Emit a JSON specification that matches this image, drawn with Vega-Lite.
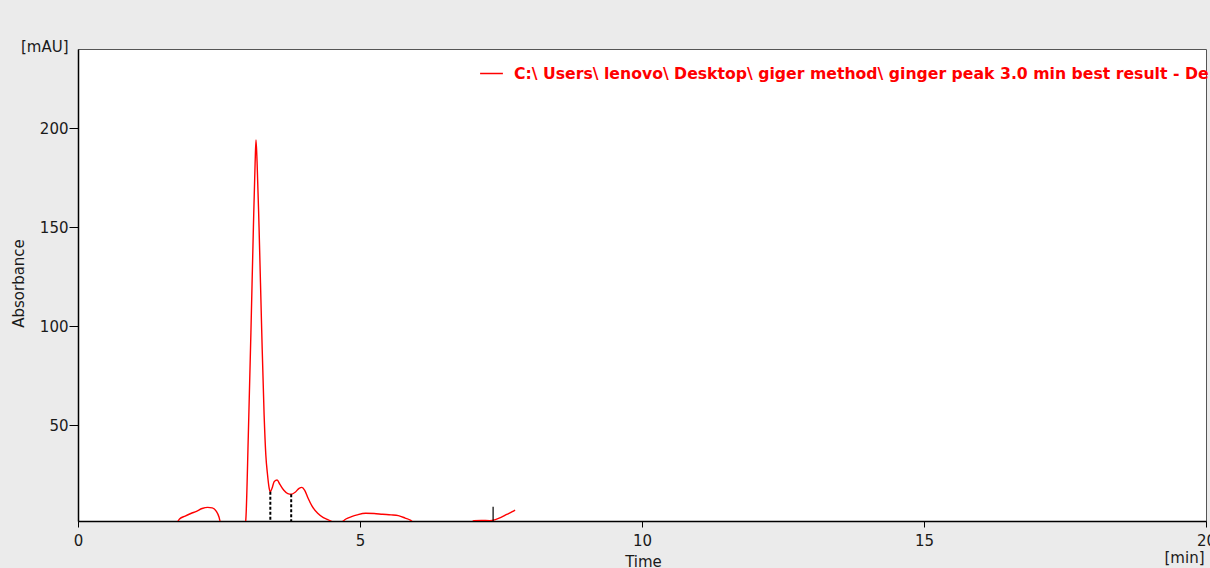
{
  "$schema": "https://vega.github.io/schema/vega-lite/v6.json",
  "width": 1128,
  "height": 472,
  "autosize": {"type": "none"},
  "padding": {"left": 78, "top": 49, "right": 4, "bottom": 47},
  "background": "#ebebeb",
  "config": {
    "view": {"fill": "white", "stroke": "#555555", "strokeWidth": 1},
    "font": "DejaVu Sans",
    "axis": {
      "grid": false,
      "labelFont": "DejaVu Sans",
      "labelFontSize": 15,
      "labelColor": "#1a1a1a",
      "labelFlush": false,
      "labelOverlap": false,
      "titleFont": "DejaVu Sans",
      "titleFontSize": 15,
      "titleFontWeight": "normal",
      "titleColor": "#1a1a1a",
      "domainColor": "#000000",
      "domainWidth": 1.5,
      "tickColor": "#000000",
      "tickWidth": 1
    }
  },
  "datasets": {
    "trace": [
      {"time": 0.0, "absorbance": -2},
      {"time": 1.6, "absorbance": -2},
      {"time": 1.74, "absorbance": 0},
      {"time": 1.8, "absorbance": 2.5},
      {"time": 1.9, "absorbance": 4.0},
      {"time": 2.0, "absorbance": 5.3},
      {"time": 2.1, "absorbance": 6.4},
      {"time": 2.2, "absorbance": 7.8},
      {"time": 2.3, "absorbance": 8.4},
      {"time": 2.38, "absorbance": 8.1},
      {"time": 2.45, "absorbance": 6.5},
      {"time": 2.5, "absorbance": 3.5},
      {"time": 2.53, "absorbance": 0},
      {"time": 2.6, "absorbance": -4},
      {"time": 2.8, "absorbance": -6},
      {"time": 2.95, "absorbance": -2},
      {"time": 2.975, "absorbance": 2},
      {"time": 3.02, "absorbance": 45},
      {"time": 3.067, "absorbance": 98},
      {"time": 3.11, "absorbance": 150},
      {"time": 3.14, "absorbance": 182},
      {"time": 3.156, "absorbance": 194},
      {"time": 3.175, "absorbance": 183},
      {"time": 3.21, "absorbance": 150},
      {"time": 3.257, "absorbance": 98},
      {"time": 3.3, "absorbance": 55},
      {"time": 3.33, "absorbance": 35},
      {"time": 3.36, "absorbance": 25},
      {"time": 3.39, "absorbance": 18},
      {"time": 3.41, "absorbance": 16.3},
      {"time": 3.44, "absorbance": 18},
      {"time": 3.48, "absorbance": 21.5},
      {"time": 3.53, "absorbance": 22.2},
      {"time": 3.58, "absorbance": 20},
      {"time": 3.65, "absorbance": 17},
      {"time": 3.72, "absorbance": 15.3},
      {"time": 3.78, "absorbance": 15},
      {"time": 3.85, "absorbance": 16},
      {"time": 3.92, "absorbance": 18},
      {"time": 3.97, "absorbance": 18.5},
      {"time": 4.02, "absorbance": 17},
      {"time": 4.08, "absorbance": 13},
      {"time": 4.15, "absorbance": 9},
      {"time": 4.25, "absorbance": 5.4},
      {"time": 4.35, "absorbance": 3.2},
      {"time": 4.43, "absorbance": 2.2},
      {"time": 4.5, "absorbance": 1.2},
      {"time": 4.6, "absorbance": 0},
      {"time": 4.68, "absorbance": 1},
      {"time": 4.75, "absorbance": 2.5},
      {"time": 4.85, "absorbance": 3.7},
      {"time": 4.95, "absorbance": 4.6},
      {"time": 5.1, "absorbance": 5.4},
      {"time": 5.25, "absorbance": 5.3},
      {"time": 5.4, "absorbance": 4.9},
      {"time": 5.55, "absorbance": 4.6},
      {"time": 5.68, "absorbance": 4.2},
      {"time": 5.8, "absorbance": 3.0},
      {"time": 5.9, "absorbance": 1.8},
      {"time": 5.97, "absorbance": 0},
      {"time": 6.2, "absorbance": -3},
      {"time": 6.7, "absorbance": -3},
      {"time": 6.95, "absorbance": 0},
      {"time": 7.02, "absorbance": 1.6},
      {"time": 7.15, "absorbance": 1.8},
      {"time": 7.3, "absorbance": 1.7},
      {"time": 7.4, "absorbance": 2.2},
      {"time": 7.5, "absorbance": 3.3},
      {"time": 7.6, "absorbance": 4.8},
      {"time": 7.7, "absorbance": 6.2},
      {"time": 7.75, "absorbance": 7.0}
    ],
    "splits": [
      {"time": 3.41, "height": 16.3},
      {"time": 3.78, "height": 15}
    ],
    "marks": [
      {"time": 7.36, "height": 8.7}
    ]
  },
  "layer": [
    {
      "data": {"name": "trace"},
      "mark": {"type": "line", "clip": true, "interpolate": "monotone", "strokeWidth": 1.4},
      "encoding": {
        "x": {
          "field": "time",
          "type": "quantitative",
          "scale": {"domain": [0, 20], "nice": false, "zero": false},
          "axis": {
            "orient": "bottom",
            "values": [0, 5, 10, 15, 20],
            "format": "d",
            "tickSize": 6,
            "labelPadding": 18,
            "labelBaseline": "alphabetic",
            "title": "Time",
            "titleX": 565,
            "titleY": 45,
            "titleAlign": "center",
            "titleBaseline": "alphabetic"
          }
        },
        "y": {
          "field": "absorbance",
          "type": "quantitative",
          "scale": {"domain": [1.5, 240], "nice": false, "zero": false},
          "axis": {
            "orient": "left",
            "values": [50, 100, 150, 200],
            "format": "d",
            "tickSize": 9,
            "labelPadding": 1,
            "title": "Absorbance",
            "titleAngle": -90,
            "titleX": -55,
            "titleY": 234,
            "titleAlign": "center",
            "titleBaseline": "alphabetic"
          }
        },
        "color": {
          "datum": "C:\\ Users\\ lenovo\\ Desktop\\ giger method\\ ginger peak 3.0 min best result - De",
          "type": "nominal",
          "scale": {"range": ["#ff0000"]},
          "legend": {
            "orient": "none",
            "legendX": 401,
            "legendY": 12,
            "title": null,
            "padding": 0,
            "symbolType": "stroke",
            "symbolSize": 520,
            "symbolStrokeWidth": 1.5,
            "labelFont": "DejaVu Sans",
            "labelFontWeight": "bold",
            "labelFontSize": 15.7,
            "labelColor": "#ff0000",
            "labelLimit": 0,
            "labelOffset": 10
          }
        }
      }
    },
    {
      "data": {"name": "splits"},
      "mark": {"type": "rule", "clip": true, "color": "#000000", "strokeWidth": 2, "strokeDash": [3, 2]},
      "encoding": {
        "x": {
          "field": "time",
          "type": "quantitative",
          "axis": {
            "orient": "bottom",
            "labels": false,
            "ticks": false,
            "domain": false,
            "grid": false,
            "title": "[min]",
            "titleX": 1126,
            "titleY": 41,
            "titleAlign": "right",
            "titleBaseline": "alphabetic"
          }
        },
        "y": {
          "field": "height",
          "type": "quantitative",
          "axis": {
            "orient": "left",
            "labels": false,
            "ticks": false,
            "domain": false,
            "grid": false,
            "title": "[mAU]",
            "titleAngle": 0,
            "titleX": -10,
            "titleY": 2,
            "titleAlign": "right",
            "titleBaseline": "alphabetic"
          }
        },
        "y2": {"datum": 0}
      }
    },
    {
      "data": {"name": "marks"},
      "mark": {"type": "rule", "clip": true, "color": "#000000", "strokeWidth": 1.2},
      "encoding": {
        "x": {"field": "time", "type": "quantitative", "axis": null},
        "y": {"field": "height", "type": "quantitative", "axis": null},
        "y2": {"datum": 0}
      }
    }
  ],
  "resolve": {"axis": {"x": "independent", "y": "independent"}}
}
